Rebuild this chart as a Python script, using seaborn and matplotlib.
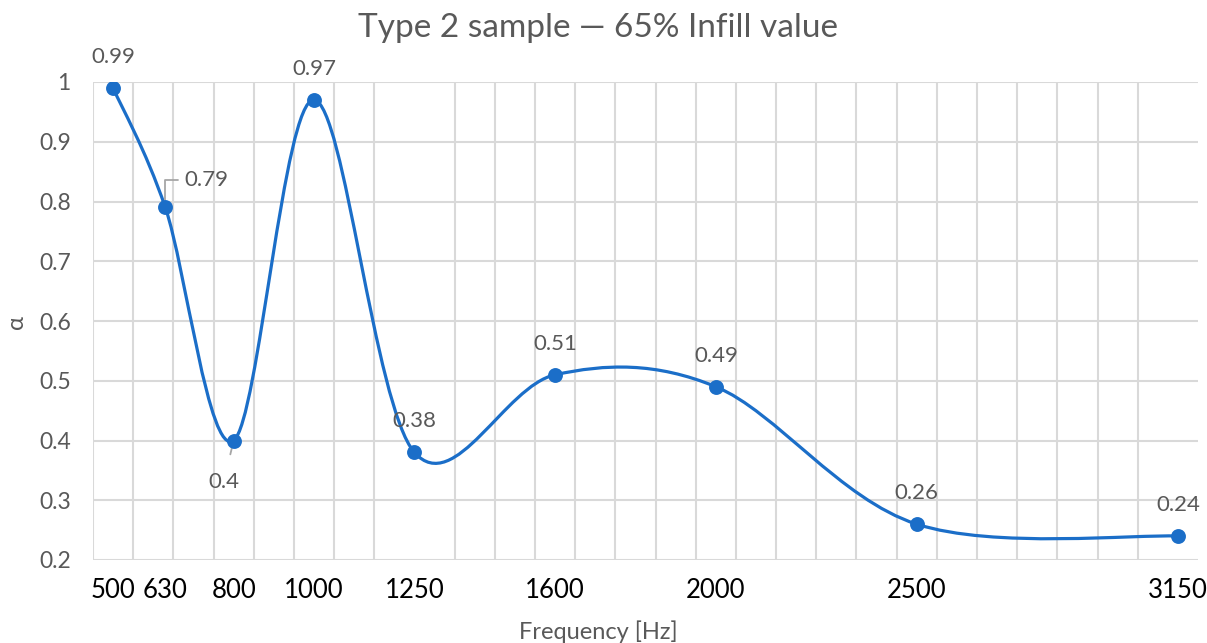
import numpy as np
import pandas as pd
import matplotlib
matplotlib.use("Agg")
import matplotlib.pyplot as plt
from matplotlib.path import Path
from matplotlib.patches import PathPatch
import seaborn as sns

# ---- data ----
freq = [500, 630, 800, 1000, 1250, 1600, 2000, 2500, 3150]
alpha = [0.99, 0.79, 0.40, 0.97, 0.38, 0.51, 0.49, 0.26, 0.24]
freq_labels = ["500", "630", "800", "1000", "1250", "1600", "2000", "2500", "3150"]
value_labels = ["0.99", "0.79", "0.4", "0.97", "0.38", "0.51", "0.49", "0.26", "0.24"]
y_ticks = [0.2, 0.3, 0.4, 0.5, 0.6, 0.7, 0.8, 0.9, 1.0]
y_tick_labels = ["0.2", "0.3", "0.4", "0.5", "0.6", "0.7", "0.8", "0.9", "1"]
title = "Type 2 sample \u2014 65% Infill value"
xlabel = "Frequency [Hz]"
ylabel = "\u03b1"

sns.set_theme(style="white")
FONT = ["Lato", "DejaVu Sans"]
plt.rcParams["font.family"] = FONT

BLUE = "#1b6ec8"
GRAY_TXT = "#595959"
GRID = "#d9d9d9"

fig = plt.figure(figsize=(12.07, 6.43), dpi=100)
ax = fig.add_axes([93 / 1207, 1 - 560 / 643, (1198 - 93) / 1207, (560 - 82) / 643])

df = pd.DataFrame({"freq": freq, "alpha": alpha})

# smooth line (Excel-style Catmull-Rom Bezier through data points)
pts = np.column_stack([df["freq"].to_numpy(float), df["alpha"].to_numpy(float)])
n = len(pts)
verts = [tuple(pts[0])]
codes = [Path.MOVETO]
for i in range(n - 1):
    p0 = pts[i - 1] if i > 0 else pts[i]
    p1 = pts[i]
    p2 = pts[i + 1]
    p3 = pts[i + 2] if i + 2 < n else pts[i + 1]
    c1 = p1 + (p2 - p0) / 6.0
    c2 = p2 - (p3 - p1) / 6.0
    verts += [tuple(c1), tuple(c2), tuple(p2)]
    codes += [Path.CURVE4] * 3
ax.add_patch(PathPatch(Path(verts, codes), facecolor="none", edgecolor=BLUE,
                       lw=2.3, zorder=3, capstyle="round", joinstyle="round"))

sns.scatterplot(data=df, x="freq", y="alpha", ax=ax, color=BLUE, s=115,
                edgecolor=BLUE, linewidth=0, zorder=4, legend=False)

ax.set_xlim(450, 3200)
ax.set_ylim(0.2, 1.0)
ax.set_xlabel("")
ax.set_ylabel("")

# gridlines
ax.set_xticks(freq)
ax.set_xticklabels(freq_labels, fontsize=18.5, color="black")
ax.set_xticks(np.arange(450, 3151, 100), minor=True)
ax.set_yticks(y_ticks)
ax.set_yticklabels(y_tick_labels, fontsize=16.5, color=GRAY_TXT)
ax.grid(False)
ax.grid(True, which="minor", axis="x", color=GRID, lw=1.5)
ax.grid(True, which="major", axis="y", color=GRID, lw=1.5)
ax.tick_params(axis="both", which="both", length=0)
ax.tick_params(axis="x", pad=13)
ax.tick_params(axis="y", pad=16)
for s in ax.spines.values():
    s.set_visible(False)
ax.set_axisbelow(True)

fig.text(598 / 1207, 1 - 632 / 643, xlabel, ha="center", va="center",
         fontsize=17, color=GRAY_TXT, family=FONT)
fig.text(17 / 1207, 1 - 322 / 643, ylabel, ha="center", va="center",
         rotation=90, fontsize=17, color=GRAY_TXT, family=FONT)
fig.text(598 / 1207, 1 - 28 / 643, title, ha="center", va="center",
         fontsize=24, color=GRAY_TXT, family=FONT)

# data labels
for i, (f, a, lab) in enumerate(zip(freq, alpha, value_labels)):
    if lab == "0.79":
        ax.annotate(lab, (f, a), xytext=(19, 27), textcoords="offset pixels",
                    ha="left", va="center", fontsize=16, color=GRAY_TXT,
                    arrowprops=dict(arrowstyle="-", color="#a6a6a6", lw=1.3,
                                    connectionstyle="angle,angleA=0,angleB=90,rad=0",
                                    shrinkA=2, shrinkB=0))
    elif lab == "0.4":
        ax.annotate(lab, (f, a), xytext=(-10, -42), textcoords="offset pixels",
                    ha="center", va="center", fontsize=16, color=GRAY_TXT,
                    arrowprops=dict(arrowstyle="-", color="#a6a6a6", lw=1.3,
                                    shrinkA=11, shrinkB=0))
    else:
        ax.annotate(lab, (f, a), xytext=(0, 31), textcoords="offset pixels",
                    ha="center", va="center", fontsize=16, color=GRAY_TXT)

fig.savefig("out.png", dpi=100)
